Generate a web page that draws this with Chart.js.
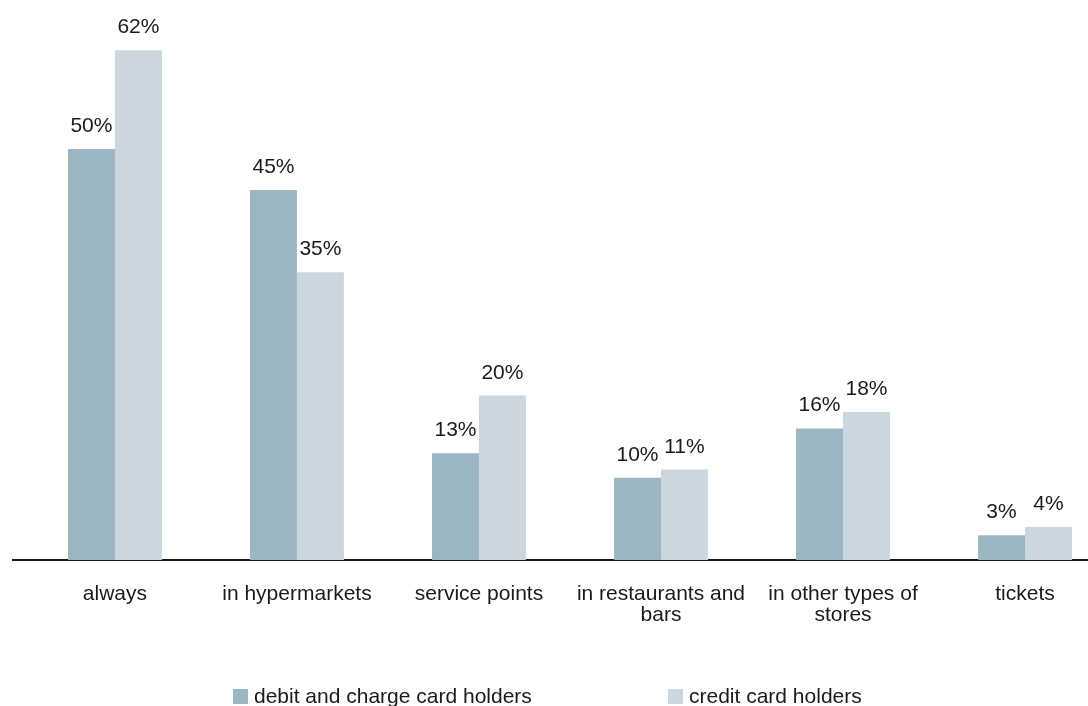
<!DOCTYPE html>
<html>
<head>
<meta charset="utf-8">
<script src="https://cdn.jsdelivr.net/npm/chart.js@4/dist/chart.umd.min.js"></script>
<style>
  html, body { margin: 0; padding: 0; background: #fff; overflow: hidden; }
  #wrap { position: relative; width: 1088px; height: 706px; }
  #legend { position: absolute; left: 0; top: 685px; width: 1088px; height: 22px;
            font-family: "Liberation Sans", Arial, sans-serif; font-size: 21px; color: #1a1a1a; }
  .item { position: absolute; top: 0; white-space: nowrap; line-height: 22px; }
  .box { display: inline-block; width: 15px; height: 15px; margin-right: 6px; vertical-align: -1px; }
</style>
</head>
<body>
<div id="wrap">
  <canvas id="chart" width="1088" height="706"></canvas>
  <div id="legend"></div>
</div>
<script>
// ============================================
// Card usage by place — grouped bars
// ============================================

const categories = [
  'always',
  'in hypermarkets',
  'service points',
  ['in restaurants and', 'bars'],
  ['in other types of', 'stores'],
  'tickets'
];
const seriesNames = ['debit and charge card holders', 'credit card holders'];
const debitValues = [50, 45, 13, 10, 16, 3];
const creditValues = [62, 35, 20, 11, 18, 4];

const colors = ['#9cb6c1', '#cad7e0'];
const textColor = '#1a1a1a';
const fontFamily = "'Liberation Sans', Arial, sans-serif";

// value labels above every bar
const valueLabels = {
  id: 'valueLabels',
  afterDatasetsDraw(chart) {
    const ctx = chart.ctx;
    ctx.save();
    ctx.font = '21px ' + fontFamily;
    ctx.fillStyle = textColor;
    ctx.textAlign = 'center';
    ctx.textBaseline = 'alphabetic';
    chart.data.datasets.forEach((ds, i) => {
      chart.getDatasetMeta(i).data.forEach((bar, j) => {
        ctx.fillText(ds.data[j].y + '%', bar.x, bar.y - 17);
      });
    });
    ctx.restore();
  }
};

const toPoints = values => values.map((v, i) => ({ x: i, y: v }));

const chart = new Chart(document.getElementById('chart'), {
  type: 'bar',
  data: {
    datasets: [
      { label: seriesNames[0], data: toPoints(debitValues), backgroundColor: colors[0] },
      { label: seriesNames[1], data: toPoints(creditValues), backgroundColor: colors[1] }
    ]
  },
  options: {
    responsive: false,
    animation: false,
    layout: { padding: { left: 13, right: 0, top: 1, bottom: 56 } },
    datasets: {
      bar: { categoryPercentage: 0.516, barPercentage: 1.0, borderWidth: 0 }
    },
    plugins: {
      legend: { display: false },
      tooltip: { enabled: false }
    },
    scales: {
      x: {
        type: 'linear',
        offset: false,
        min: -0.56,
        max: 5.346,
        grid: { display: false, drawTicks: false, offset: false },
        border: { display: true, color: textColor, width: 2 },
        afterBuildTicks: axis => { axis.ticks = categories.map((c, i) => ({ value: i })); },
        afterFit: axis => { axis.height = 90; },
        ticks: {
          autoSkip: false,
          maxRotation: 0,
          padding: 24,
          color: textColor,
          font: { family: fontFamily, size: 21, lineHeight: 1.0 },
          callback: value => categories[value]
        }
      },
      y: {
        display: false,
        min: 0,
        max: 68
      }
    }
  },
  plugins: [valueLabels]
});

// legend drawn as html
const legendLefts = [233, 668];
const legend = document.getElementById('legend');
chart.data.datasets.forEach((ds, i) => {
  const item = document.createElement('div');
  item.className = 'item';
  item.style.left = legendLefts[i] + 'px';
  item.innerHTML = '<span class="box" style="background:' + ds.backgroundColor + '"></span>' + ds.label;
  legend.appendChild(item);
});
</script>
</body>
</html>
